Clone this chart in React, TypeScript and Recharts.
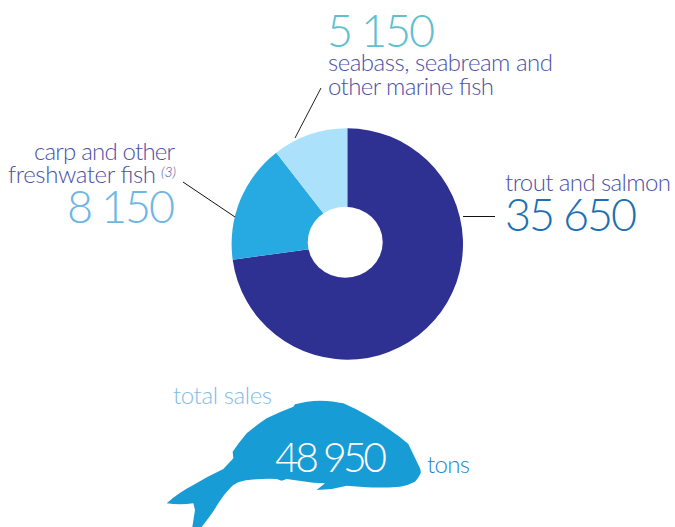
import React from 'react';
import { PieChart, Pie, Cell } from 'recharts';

const categories = ['trout and salmon', 'carp and other freshwater fish', 'seabass, seabream and other marine fish'];
const values = [35650, 8150, 5150];
const sliceColors = ['#2E3192', '#27AAE1', '#ABE1FA'];
const data = categories.map((name, i) => ({ name, value: values[i] }));

const FONT = 'Lato, sans-serif';
const PURPLE = '#4C4FA6';

const fishPath =
  'M50 400 Q85 368 130 345 Q175 318 220 297 L250 265 L248 245 Q265 220 290 190 Q320 165 350 145 Q390 125 430 110 L435 103 Q470 93 510 92 Q550 93 580 100 Q615 115 650 135 Q690 158 720 180 Q750 200 775 222 L810 295 Q813 303 812 310 Q805 325 795 335 Q775 346 750 350 Q700 354 650 352 L590 347 Q565 353 545 357 L500 360 L525 340 L490 338 L410 327 L395 332 L380 327 Q350 325 320 328 Q285 330 265 337 Q250 343 240 355 Q220 375 205 400 Q190 425 175 445 L155 471 L127 471 L135 420 L130 400 Q90 405 50 400 Z';

type TProps = { x: number; y: number; size: number; fill: string; len: number; children: React.ReactNode };
const T = ({ x, y, size, fill, len, children }: TProps) => (
  <text x={x} y={y} fontSize={size} fill={fill} fontFamily={FONT} fontWeight={300} textLength={len} lengthAdjust="spacing">
    {children}
  </text>
);

const Decor = () => (
  <svg width={675} height={527} style={{ position: 'absolute', left: 0, top: 0 }}>
    <ellipse cx={345.2} cy={242.2} rx={37.5} ry={35.5} fill="#FFFFFF" />
    <line x1={463} y1={216.5} x2={495} y2={216.5} stroke="#111" strokeWidth={1} />
    <line x1={183} y1={182} x2={235} y2={217} stroke="#111" strokeWidth={1} />
    <line x1={321} y1={88} x2={295} y2={138} stroke="#222" strokeWidth={1} />

    <T x={505} y={191} size={24} fill={PURPLE} len={166}>trout and salmon</T>
    <T x={505} y={231} size={45} fill="#1B6FB3" len={132}>35 650</T>

    <T x={34} y={160} size={24} fill={PURPLE} len={141}>carp and other</T>
    <T x={8} y={183} size={24} fill={PURPLE} len={148}>freshwater fish</T>
    <text x={176} y={177} fontSize={14} fill={PURPLE} textAnchor="end" fontFamily={FONT} fontWeight={300} fontStyle="italic">(3)</text>
    <T x={67} y={223} size={45} fill="#6DB6E6" len={108}>8 150</T>

    <T x={327} y={47} size={45} fill="#5FC0CF" len={108}>5 150</T>
    <T x={328} y={71} size={24} fill={PURPLE} len={225}>seabass, seabream and</T>
    <T x={328} y={95} size={24} fill={PURPLE} len={166}>other marine fish</T>

    <T x={173} y={404} size={24} fill="#7FBCE8" len={99}>total sales</T>
    <path d={fishPath} transform="translate(150 370) scale(0.33333)" fill="#189CD6" />
    <T x={275} y={472} size={41} fill="#FFFFFF" len={112}>48 950</T>
    <T x={427} y={473} size={24} fill="#1B86CC" len={43}>tons</T>
  </svg>
);

export default function App() {
  return (
    <div style={{ position: 'absolute', left: 0, top: 0, width: 675, height: 527, overflow: 'hidden', background: '#fff' }}>
      <PieChart width={675} height={527} margin={{ top: 0, right: 0, bottom: 0, left: 0 }}>
        <Pie
          data={data}
          dataKey="value"
          cx={347.3}
          cy={244}
          innerRadius={0}
          outerRadius={115.7}
          startAngle={90}
          endAngle={-270}
          stroke="none"
          isAnimationActive={false}
        >
          {data.map((d, i) => (
            <Cell key={d.name} fill={sliceColors[i]} />
          ))}
        </Pie>
      </PieChart>
      <Decor />
    </div>
  );
}
